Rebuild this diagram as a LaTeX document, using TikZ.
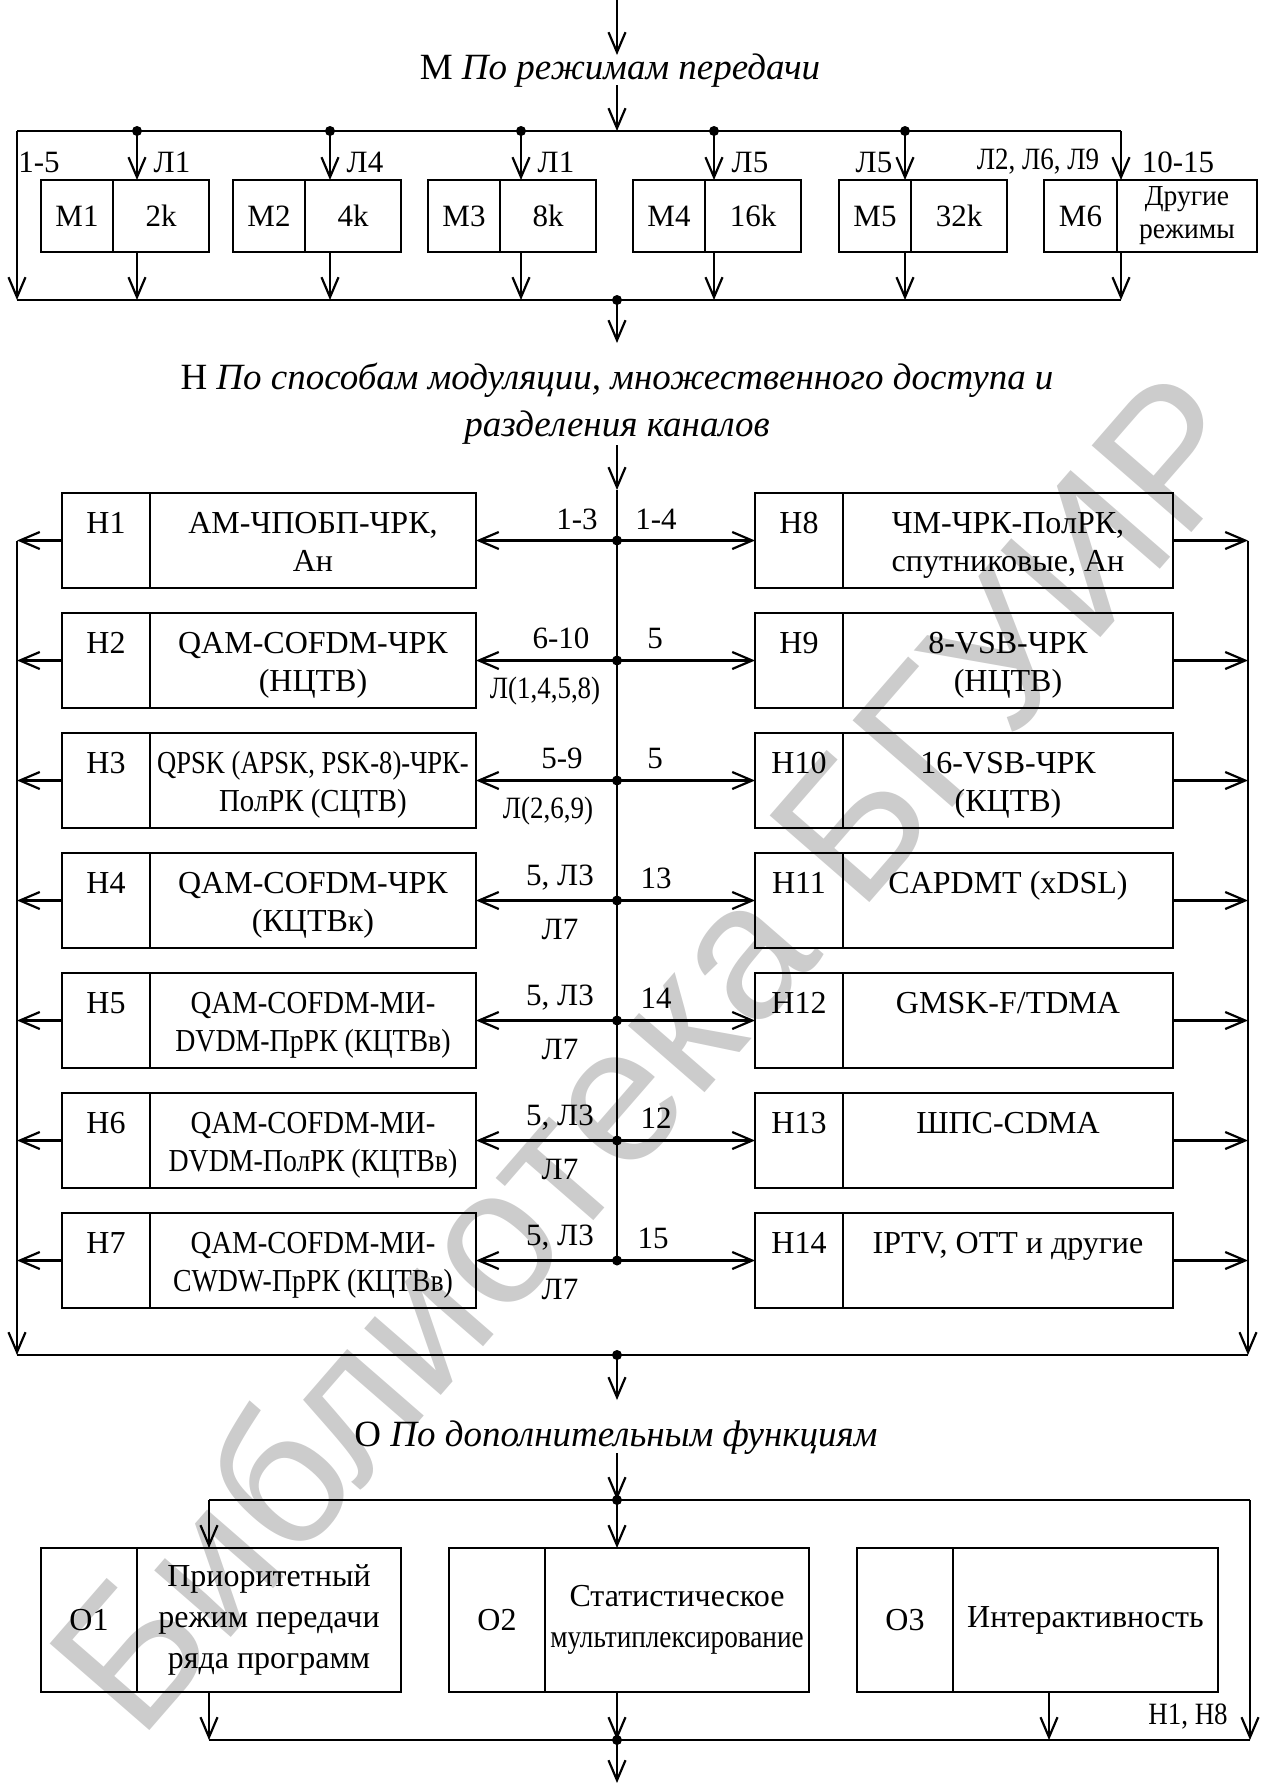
\documentclass[tikz,border=0pt]{standalone}
\usepackage{fontspec}
\usepackage{graphicx}
\setmainfont{Liberation Serif}
\newfontfamily\wmfont{Liberation Sans}
\usetikzlibrary{arrows.meta,positioning}

\newcommand{\tight}[2][0.87]{\scalebox{#1}[1]{#2}}

\tikzset{
  wire/.style={line width=1.1pt},
  mbox/.style={draw, line width=1.2pt, anchor=north west, inner sep=0pt, outer sep=0pt,
    minimum height=36pt, align=center, font=\fontsize{15.5}{16.5}\selectfont},
  hbox/.style={draw, line width=1.2pt, anchor=north west, inner sep=0pt, outer sep=0pt,
    minimum height=47.5pt, align=center, text height=35pt, text depth=4.4pt,
    font=\fontsize{16}{19}\selectfont},
  hkey/.style={hbox, minimum width=44pt},
  hleft/.style={hbox, minimum width=163pt},
  hright/.style={hbox, minimum width=165pt},
  obox/.style={draw, line width=1.2pt, anchor=north west, inner sep=0pt, outer sep=0pt,
    minimum height=72pt, align=center, font=\fontsize{16}{20.5}\selectfont},
  head/.style={font=\fontsize{18.5}{23.5}\selectfont, align=center, inner sep=0pt},
  lbl/.style={font=\fontsize{15.5}{17}\selectfont, inner sep=0pt},
}

\begin{document}
\begin{tikzpicture}[x=0.5pt, y=-0.5pt, >={Straight Barb[length=10pt,width=8.5pt]}]
  \useasboundingbox (0,0) rectangle (1261,1783);

  \node[rotate=49, text=black!20, font=\wmfont\fontsize{96}{96}\selectfont] (wm) at (650,1050) {Библиотека БГУИР};

  % M
  \coordinate (m0) at (617,0);
  \coordinate (m1) at (617,55);
  \node[head] (mt) at (620,71) {М \textit{По режимам передачи}};
  \coordinate (m2) at (617,85);
  \coordinate (m3) at (617,131);
  \draw[wire,->] (m0) -- (m1);
  \draw[wire,->] (m2) -- (m3);

  \coordinate (mtl) at (17,131);
  \coordinate (mtr) at (1121,131);
  \coordinate (mbl) at (17,300);
  \coordinate (mbr) at (1121,300);
  \coordinate (mb) at (617,300);
  \draw[wire] (mtl) -- (mtr);
  \draw[wire,->] (mtl) -- (mbl);
  \draw[wire] (mbl) -- (mbr);

  \node[mbox, minimum width=36pt] (m1k) at (41,180) {М1};
  \node[mbox, minimum width=48pt] (m1t) at (m1k.north east) {2k};
  \node[mbox, minimum width=36pt] (m2k) at (233,180) {М2};
  \node[mbox, minimum width=48pt] (m2t) at (m2k.north east) {4k};
  \node[mbox, minimum width=36pt] (m3k) at (428,180) {М3};
  \node[mbox, minimum width=48pt] (m3t) at (m3k.north east) {8k};
  \node[mbox, minimum width=36pt] (m4k) at (633,180) {М4};
  \node[mbox, minimum width=48pt] (m4t) at (m4k.north east) {16k};
  \node[mbox, minimum width=36pt] (m5k) at (839,180) {М5};
  \node[mbox, minimum width=48pt] (m5t) at (m5k.north east) {32k};
  \node[mbox, minimum width=36.5pt] (m6k) at (1044,180) {М6};
  \node[mbox, minimum width=70pt, font=\fontsize{14.5}{16.5}\selectfont] (m6t) at (m6k.north east) {\tight[0.95]{Другие}\\\tight[0.95]{режимы}};

  \coordinate (b1) at (137,131);
  \coordinate (b2) at (330,131);
  \coordinate (b3) at (521,131);
  \coordinate (b4) at (714,131);
  \coordinate (b5) at (905,131);
  \draw[wire,->] (b1) -- (b1 |- m1t.north);
  \draw[wire,->] (b2) -- (b2 |- m2t.north);
  \draw[wire,->] (b3) -- (b3 |- m3t.north);
  \draw[wire,->] (b4) -- (b4 |- m4t.north);
  \draw[wire,->] (b5) -- (b5 |- m5t.north);
  \draw[wire,->] (mtr) -- (mtr |- m6t.north);
  \draw[wire,->] (b1 |- m1t.south) -- (b1 |- mbl);
  \draw[wire,->] (b2 |- m2t.south) -- (b2 |- mbl);
  \draw[wire,->] (b3 |- m3t.south) -- (b3 |- mbl);
  \draw[wire,->] (b4 |- m4t.south) -- (b4 |- mbl);
  \draw[wire,->] (b5 |- m5t.south) -- (b5 |- mbl);
  \draw[wire,->] (mtr |- m6t.south) -- (mbr);
  \fill (b1) circle (5);
  \fill (b2) circle (5);
  \fill (b3) circle (5);
  \fill (b4) circle (5);
  \fill (b5) circle (5);
  \fill (mb) circle (5);

  \node[lbl] (ml0) at (39,162) {1-5};
  \node[lbl] (ml1) at (172,162) {Л1};
  \node[lbl] (ml2) at (365,162) {Л4};
  \node[lbl] (ml3) at (556,162) {Л1};
  \node[lbl] (ml4) at (750,162) {Л5};
  \node[lbl] (ml5) at (874,162) {Л5};
  \node[lbl] (ml6) at (1038,162) {\tight{Л2, Л6, Л9}};
  \node[lbl] (ml7) at (1178,162) {10-15};

  % H
  \coordinate (n0) at (617,343);
  \draw[wire,->] (mb) -- (n0);
  \node[head] (nt) at (617,404) {Н \textit{По способам модуляции, множественного доступа и}\\\textit{разделения каналов}};
  \coordinate (n1) at (617,445);
  \coordinate (n2) at (617,490);
  \coordinate (n3) at (617,1260.5);
  \draw[wire,->] (n1) -- (n2);
  \draw[wire] (n2) -- (n3);

  \coordinate (lt) at (17,540.5);
  \coordinate (lb) at (17,1355);
  \coordinate (rt) at (1248,540.5);
  \coordinate (rb) at (1248,1355);
  \coordinate (nb) at (617,1355);
  \draw[wire,->] (lt) -- (lb);
  \draw[wire,->] (rt) -- (rb);
  \draw[wire] (lb) -- (rb);

  \node[hkey] (h1k) at (62,493) {Н1\\\mbox{}};
  \node[hleft] (h1) at (h1k.north east) {АМ-ЧПОБП-ЧРК,\\Ан};
  \node[hkey] (h2k) at (62,613) {Н2\\\mbox{}};
  \node[hleft] (h2) at (h2k.north east) {QAM-COFDM-ЧРК\\(НЦТВ)};
  \node[hkey] (h3k) at (62,733) {Н3\\\mbox{}};
  \node[hleft] (h3) at (h3k.north east) {\tight[0.83]{QPSK (APSK, PSK-8)-ЧРК-}\\\tight[0.9]{ПолРК (СЦТВ)}};
  \node[hkey] (h4k) at (62,853) {Н4\\\mbox{}};
  \node[hleft] (h4) at (h4k.north east) {QAM-COFDM-ЧРК\\(КЦТВк)};
  \node[hkey] (h5k) at (62,973) {Н5\\\mbox{}};
  \node[hleft] (h5) at (h5k.north east) {\tight[0.9]{QAM-COFDM-МИ-}\\\tight{DVDM-ПрРК (КЦТВв)}};
  \node[hkey] (h6k) at (62,1093) {Н6\\\mbox{}};
  \node[hleft] (h6) at (h6k.north east) {\tight[0.9]{QAM-COFDM-МИ-}\\\tight{DVDM-ПолРК (КЦТВв)}};
  \node[hkey] (h7k) at (62,1213) {Н7\\\mbox{}};
  \node[hleft] (h7) at (h7k.north east) {\tight[0.9]{QAM-COFDM-МИ-}\\\tight{CWDW-ПрРК (КЦТВв)}};

  \node[hkey] (h8k) at (755,493) {Н8\\\mbox{}};
  \node[hright] (h8) at (h8k.north east) {ЧМ-ЧРК-ПолРК,\\спутниковые, Ан};
  \node[hkey] (h9k) at (755,613) {Н9\\\mbox{}};
  \node[hright] (h9) at (h9k.north east) {8-VSB-ЧРК\\(НЦТВ)};
  \node[hkey] (h10k) at (755,733) {Н10\\\mbox{}};
  \node[hright] (h10) at (h10k.north east) {16-VSB-ЧРК\\(КЦТВ)};
  \node[hkey] (h11k) at (755,853) {Н11\\\mbox{}};
  \node[hright] (h11) at (h11k.north east) {CAPDMT (xDSL)\\\mbox{}};
  \node[hkey] (h12k) at (755,973) {Н12\\\mbox{}};
  \node[hright] (h12) at (h12k.north east) {GMSK-F/TDMA\\\mbox{}};
  \node[hkey] (h13k) at (755,1093) {Н13\\\mbox{}};
  \node[hright] (h13) at (h13k.north east) {ШПС-CDMA\\\mbox{}};
  \node[hkey] (h14k) at (755,1213) {Н14\\\mbox{}};
  \node[hright] (h14) at (h14k.north east) {IPTV, OTT и другие\\\mbox{}};

  \coordinate (s1) at (617,540.5);
  \coordinate (s2) at (617,660.5);
  \coordinate (s3) at (617,780.5);
  \coordinate (s4) at (617,900.5);
  \coordinate (s5) at (617,1020.5);
  \coordinate (s6) at (617,1140.5);
  \coordinate (s7) at (617,1260.5);

  \draw[wire,->] (s1) -- (h1.east);
  \draw[wire,->] (s2) -- (h2.east);
  \draw[wire,->] (s3) -- (h3.east);
  \draw[wire,->] (s4) -- (h4.east);
  \draw[wire,->] (s5) -- (h5.east);
  \draw[wire,->] (s6) -- (h6.east);
  \draw[wire,->] (s7) -- (h7.east);
  \draw[wire,->] (s1) -- (h8k.west);
  \draw[wire,->] (s2) -- (h9k.west);
  \draw[wire,->] (s3) -- (h10k.west);
  \draw[wire,->] (s4) -- (h11k.west);
  \draw[wire,->] (s5) -- (h12k.west);
  \draw[wire,->] (s6) -- (h13k.west);
  \draw[wire,->] (s7) -- (h14k.west);

  \draw[wire,->] (h1k.west) -- (h1k.west -| lt);
  \draw[wire,->] (h2k.west) -- (h2k.west -| lt);
  \draw[wire,->] (h3k.west) -- (h3k.west -| lt);
  \draw[wire,->] (h4k.west) -- (h4k.west -| lt);
  \draw[wire,->] (h5k.west) -- (h5k.west -| lt);
  \draw[wire,->] (h6k.west) -- (h6k.west -| lt);
  \draw[wire,->] (h7k.west) -- (h7k.west -| lt);
  \draw[wire,->] (h8.east) -- (h8.east -| rt);
  \draw[wire,->] (h9.east) -- (h9.east -| rt);
  \draw[wire,->] (h10.east) -- (h10.east -| rt);
  \draw[wire,->] (h11.east) -- (h11.east -| rt);
  \draw[wire,->] (h12.east) -- (h12.east -| rt);
  \draw[wire,->] (h13.east) -- (h13.east -| rt);
  \draw[wire,->] (h14.east) -- (h14.east -| rt);

  \fill (s1) circle (5);
  \fill (s2) circle (5);
  \fill (s3) circle (5);
  \fill (s4) circle (5);
  \fill (s5) circle (5);
  \fill (s6) circle (5);
  \fill (s7) circle (5);
  \fill (nb) circle (5);

  \node[lbl] (q1) at (577,519) {1-3};
  \node[lbl] (q2) at (561,638) {6-10};
  \node[lbl] (q3) at (562,758) {5-9};
  \node[lbl] (q4) at (560,878) {5, Л3};
  \node[lbl] (q5) at (560,998) {5, Л3};
  \node[lbl] (q6) at (560,1118) {5, Л3};
  \node[lbl] (q7) at (560,1238) {5, Л3};
  \node[lbl] (u2) at (545,691) {\tight{Л(1,4,5,8)}};
  \node[lbl] (u3) at (548,811) {\tight{Л(2,6,9)}};
  \node[lbl] (u4) at (560,929) {Л7};
  \node[lbl] (u5) at (560,1049) {Л7};
  \node[lbl] (u6) at (560,1169) {Л7};
  \node[lbl] (u7) at (560,1289) {Л7};
  \node[lbl] (r1) at (656,519) {1-4};
  \node[lbl] (r2) at (655,638) {5};
  \node[lbl] (r3) at (655,758) {5};
  \node[lbl] (r4) at (656,878) {13};
  \node[lbl] (r5) at (656,998) {14};
  \node[lbl] (r6) at (656,1118) {12};
  \node[lbl] (r7) at (653,1238) {15};

  % O
  \coordinate (o0) at (617,1400);
  \draw[wire,->] (nb) -- (o0);
  \node[head] (ot) at (616,1438) {О \textit{По дополнительным функциям}};
  \coordinate (o1) at (617,1453);
  \coordinate (o2) at (617,1500);
  \draw[wire,->] (o1) -- (o2);

  \coordinate (otl) at (209,1500);
  \coordinate (otr) at (1250,1500);
  \coordinate (obl) at (209,1740);
  \coordinate (obr) at (1250,1740);
  \coordinate (ob) at (617,1740);
  \coordinate (o3d) at (1049,1740);
  \coordinate (oend) at (617,1783);
  \draw[wire] (otl) -- (otr);
  \draw[wire] (obl) -- (obr);
  \draw[wire,->] (otr) -- (obr);

  \node[obox, minimum width=48pt] (o1k) at (41,1548) {О1};
  \node[obox, minimum width=132pt] (o1t) at (o1k.north east) {Приоритетный\\режим передачи\\ряда программ};
  \node[obox, minimum width=48pt] (o2k) at (449,1548) {О2};
  \node[obox, minimum width=132pt] (o2t) at (o2k.north east) {Статистическое\\\tight[0.85]{мультиплексирование}};
  \node[obox, minimum width=48pt] (o3k) at (857,1548) {О3};
  \node[obox, minimum width=132.5pt] (o3t) at (o3k.north east) {Интерактивность};

  \draw[wire,->] (otl) -- (otl |- o1t.north);
  \draw[wire,->] (o2) -- (o2 |- o2t.north);
  \draw[wire,->] (otl |- o1t.south) -- (obl);
  \draw[wire,->] (ob |- o2t.south) -- (ob);
  \draw[wire,->] (o3d |- o3t.south) -- (o3d);
  \draw[wire,->] (ob) -- (oend);
  \fill (o2) circle (5);
  \fill (ob) circle (5);

  \node[lbl] (oh) at (1188,1717) {\tight{Н1, Н8}};
\end{tikzpicture}
\end{document}
